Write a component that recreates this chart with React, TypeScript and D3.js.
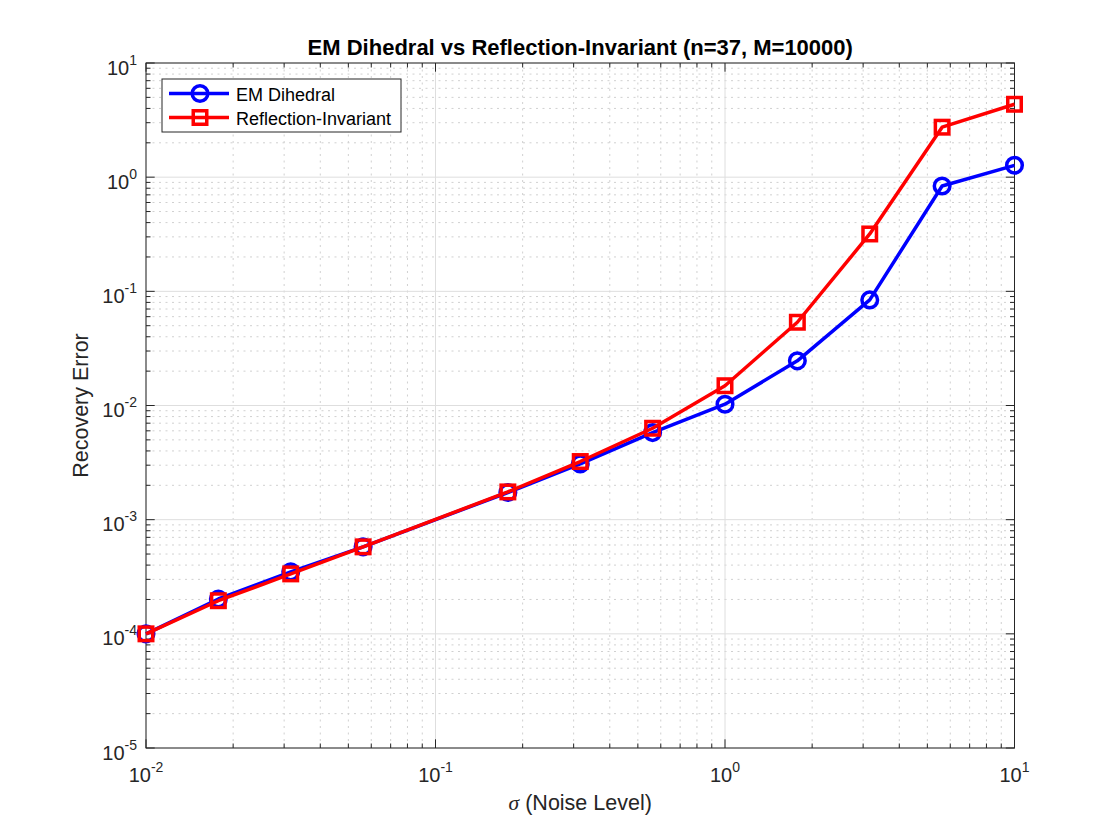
import React from "react";
import * as d3 from "d3";

const sigma = [0.01, 0.01778, 0.03162, 0.05623, 0.1778, 0.3162, 0.5623, 1, 1.778, 3.162, 5.623, 10];
const emDihedral = [1.0e-4, 2.02e-4, 3.49e-4, 5.78e-4, 1.73e-3, 3.08e-3, 5.79e-3, 1.026e-2, 2.46e-2, 8.41e-2, 0.837, 1.27];
const reflInvariant = [1.0e-4, 1.95e-4, 3.35e-4, 5.78e-4, 1.75e-3, 3.23e-3, 6.32e-3, 1.49e-2, 5.36e-2, 0.318, 2.74, 4.35];
const xTickExps = [-2, -1, 0, 1];
const yTickExps = [-5, -4, -3, -2, -1, 0, 1];
const seriesNames = ["EM Dihedral", "Reflection-Invariant"];
const titleText = "EM Dihedral vs Reflection-Invariant (n=37, M=10000)";
const xLabelText = "(Noise Level)";
const yLabelText = "Recovery Error";

const W = 1120, H = 840;
const L = 146, R = 1014.5, T = 63, B = 748;
const FONT = "'Liberation Sans', Arial, Helvetica, sans-serif";
const AX = "#262626";

export default function App() {
  const x = d3.scaleLog().domain([0.01, 10]).range([L, R]);
  const y = d3.scaleLog().domain([1e-5, 10]).range([B, T]);

  const minorX: number[] = [];
  for (let e = -2; e < 1; e++) for (let m = 2; m <= 9; m++) minorX.push(m * Math.pow(10, e));
  const minorY: number[] = [];
  for (let e = -5; e < 1; e++) for (let m = 2; m <= 9; m++) minorY.push(m * Math.pow(10, e));

  const line = d3.line<number>().x((_, i) => x(sigma[i])).y((d) => y(d));
  const blue = "#0000ff", red = "#ff0000";
  const sq = 13.5;
  const lw = 3.5;
  const cr = 7.8;

  const majT = 8.7, minT = 4.5;

  return (
    <svg width={W} height={H} style={{ position: "absolute", left: 0, top: 0, background: "#fff" }} fontFamily={FONT}>
      <rect x={0} y={0} width={W} height={H} fill="#fff" />
      {/* minor grid */}
      {minorX.map((v, i) => (
        <line key={"mgx" + i} x1={x(v)} x2={x(v)} y1={T} y2={B} stroke="#d0d0d0" strokeWidth={1} strokeDasharray="2,4.5" />
      ))}
      {minorY.map((v, i) => (
        <line key={"mgy" + i} x1={L} x2={R} y1={y(v)} y2={y(v)} stroke="#d0d0d0" strokeWidth={1} strokeDasharray="2,4.5" />
      ))}
      {/* major grid */}
      {xTickExps.map((e) => (
        <line key={"gx" + e} x1={x(Math.pow(10, e))} x2={x(Math.pow(10, e))} y1={T} y2={B} stroke="#dedede" strokeWidth={1} />
      ))}
      {yTickExps.map((e) => (
        <line key={"gy" + e} x1={L} x2={R} y1={y(Math.pow(10, e))} y2={y(Math.pow(10, e))} stroke="#dedede" strokeWidth={1} />
      ))}
      {/* ticks */}
      {minorX.map((v, i) => (
        <g key={"tmx" + i}>
          <line x1={x(v)} x2={x(v)} y1={B} y2={B - minT} stroke={AX} />
          <line x1={x(v)} x2={x(v)} y1={T} y2={T + minT} stroke={AX} />
        </g>
      ))}
      {minorY.map((v, i) => (
        <g key={"tmy" + i}>
          <line x1={L} x2={L + minT} y1={y(v)} y2={y(v)} stroke={AX} />
          <line x1={R} x2={R - minT} y1={y(v)} y2={y(v)} stroke={AX} />
        </g>
      ))}
      {xTickExps.map((e) => {
        const px = x(Math.pow(10, e));
        return (
          <g key={"tx" + e}>
            <line x1={px} x2={px} y1={B} y2={B - majT} stroke={AX} />
            <line x1={px} x2={px} y1={T} y2={T + majT} stroke={AX} />
            <text x={px} y={782} textAnchor="middle" fill={AX} fontSize={20}>
              10<tspan dy={-10} fontSize={14}>{e}</tspan>
            </text>
          </g>
        );
      })}
      {yTickExps.map((e) => {
        const py = y(Math.pow(10, e));
        return (
          <g key={"ty" + e}>
            <line x1={L} x2={L + majT} y1={py} y2={py} stroke={AX} />
            <line x1={R} x2={R - majT} y1={py} y2={py} stroke={AX} />
            <text x={137} y={py + 11.5} textAnchor="end" fill={AX} fontSize={20}>
              10<tspan dy={-10} fontSize={14}>{e}</tspan>
            </text>
          </g>
        );
      })}
      {/* box */}
      <rect x={L} y={T} width={R - L} height={B - T} fill="none" stroke={AX} strokeWidth={1} />
      {/* series */}
      <path d={line(emDihedral) || ""} fill="none" stroke={blue} strokeWidth={lw} strokeLinejoin="round" />
      {emDihedral.map((v, i) => (
        <circle key={"c" + i} cx={x(sigma[i])} cy={y(v)} r={cr} fill="none" stroke={blue} strokeWidth={lw} />
      ))}
      <path d={line(reflInvariant) || ""} fill="none" stroke={red} strokeWidth={lw} strokeLinejoin="round" />
      {reflInvariant.map((v, i) => (
        <rect key={"s" + i} x={x(sigma[i]) - sq / 2} y={y(v) - sq / 2} width={sq} height={sq} fill="none" stroke={red} strokeWidth={lw} />
      ))}
      {/* legend */}
      <rect x={162} y={79} width={239} height={53} fill="#fff" stroke={AX} strokeWidth={1} />
      <line x1={169} x2={229} y1={93.5} y2={93.5} stroke={blue} strokeWidth={lw} />
      <circle cx={200} cy={93.5} r={cr} fill="none" stroke={blue} strokeWidth={lw} />
      <text x={236} y={100.5} fontSize={18} fill="#000">{seriesNames[0]}</text>
      <line x1={169} x2={229} y1={117.5} y2={117.5} stroke={red} strokeWidth={lw} />
      <rect x={200 - sq / 2} y={117.5 - sq / 2} width={sq} height={sq} fill="none" stroke={red} strokeWidth={lw} />
      <text x={236} y={124.5} fontSize={18} fill="#000">{seriesNames[1]}</text>
      {/* title and labels */}
      <text x={(L + R) / 2} y={55} textAnchor="middle" fontSize={22} fontWeight="bold" fill="#000">{titleText}</text>
      <text x={(L + R) / 2} y={809.5} textAnchor="middle" fontSize={21.5} fill={AX}>
        <tspan fontFamily="'Liberation Serif', 'Times New Roman', serif" fontStyle="italic">σ</tspan> {xLabelText}
      </text>
      <text transform={`translate(88, ${(T + B) / 2}) rotate(-90)`} textAnchor="middle" fontSize={21.5} fill={AX}>{yLabelText}</text>
    </svg>
  );
}
